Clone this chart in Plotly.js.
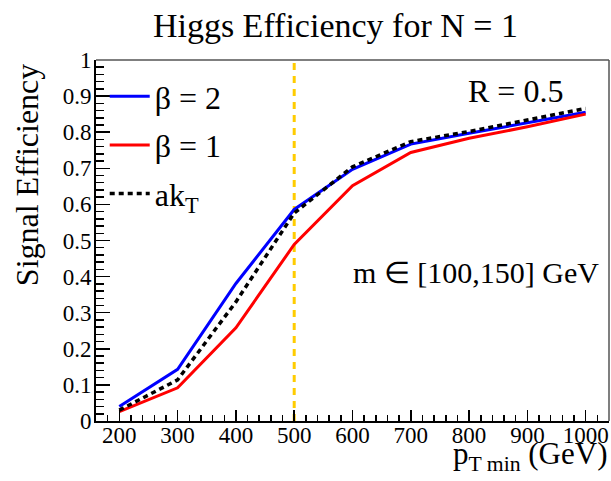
<!DOCTYPE html>
<html>
<head>
<meta charset="utf-8">
<script src="https://cdn.plot.ly/plotly-3.0.1.min.js"></script>
<style>html,body{margin:0;padding:0;background:#fff;}#chart{width:611px;height:481px;}</style>
</head>
<body>
<div id="chart"></div>
<script>
// ---- data ----
const ptMin = [200, 300, 400, 500, 600, 700, 800, 900, 1000];
const effBeta2 = [0.040, 0.143, 0.381, 0.586, 0.697, 0.767, 0.797, 0.826, 0.855];
const effBeta1 = [0.026, 0.092, 0.258, 0.489, 0.652, 0.744, 0.783, 0.815, 0.850];
const effAkT   = [0.030, 0.114, 0.330, 0.576, 0.704, 0.774, 0.802, 0.833, 0.866];
const seriesNames = ['β = 2', 'β = 1', 'ak<sub>T</sub>'];
const cutPt = [500, 500];
const cutEff = [0, 1];
const xTickVals = [200, 300, 400, 500, 600, 700, 800, 900, 1000];
const yTickVals = [0, 0.1, 0.2, 0.3, 0.4, 0.5, 0.6, 0.7, 0.8, 0.9, 1];

const FONT = '"Liberation Serif"';

const traces = [
  {x: ptMin, y: effBeta2, name: seriesNames[0], mode: 'lines', legendgroup: 'a',
   line: {color: '#0000ff', width: 3}},
  {x: ptMin, y: effBeta1, name: seriesNames[1], mode: 'lines', legendgroup: 'b',
   line: {color: '#ff0000', width: 3}},
  {x: ptMin, y: effAkT, name: seriesNames[2], mode: 'lines', legendgroup: 'c',
   line: {color: '#000000', width: 3.5, dash: '5px,4px'}},
  {x: cutPt, y: cutEff, mode: 'lines', showlegend: false, hoverinfo: 'skip',
   line: {color: '#ffcc00', width: 3, dash: '7px,6px'}}
];
const data = [traces[3], traces[0], traces[1], traces[2]];

const axisCommon = {
  showgrid: false, zeroline: false, showline: true, linecolor: '#000', linewidth: 2,
  ticks: 'inside', tickcolor: '#000', tickwidth: 1.5,
  tickfont: {family: FONT, size: 23, color: '#000'}, mirror: false
};

const layout = {
  width: 611, height: 481,
  margin: {l: 96, r: 2, t: 60, b: 60},
  paper_bgcolor: '#fff', plot_bgcolor: '#fff',
  font: {family: FONT, color: '#000'},
  title: {text: 'Higgs Efficiency for N = 1', font: {family: FONT, size: 34, color: '#000'},
          x: 0.549, xanchor: 'center', y: 0.948, yanchor: 'middle'},
  xaxis: Object.assign({}, axisCommon, {
    range: [160, 1040], tickvals: xTickVals, ticklen: 11, ticklabelstandoff: -8,
    minor: {dtick: 20, tick0: 0, ticklen: 6, ticks: 'inside', tickcolor: '#000', tickwidth: 1.5}
  }),
  yaxis: Object.assign({}, axisCommon, {
    range: [0, 1], tickvals: yTickVals, ticklen: 14, ticklabelstandoff: -2,
    minor: {dtick: 0.02, tick0: 0, ticklen: 8, ticks: 'inside', tickcolor: '#000', tickwidth: 1.5}
  }),
  showlegend: true,
  legend: {x: 0.017, y: 0.975, xanchor: 'left', yanchor: 'top', bgcolor: 'rgba(0,0,0,0)',
           font: {family: FONT, size: 32, color: '#000'}, traceorder: 'grouped',
           tracegroupgap: 4, itemwidth: 40},
  shapes: [
    {type: 'line', xref: 'paper', yref: 'paper', x0: 0, x1: 1, y0: 1, y1: 1,
     line: {color: '#555', width: 1.5}},
    {type: 'line', xref: 'paper', yref: 'paper', x0: 1, x1: 1, y0: 0, y1: 1,
     line: {color: '#555', width: 1.5}}
  ],
  annotations: [
    {text: 'R = 0.5', xref: 'paper', yref: 'paper', x: 0.914, y: 0.915,
     xanchor: 'right', yanchor: 'middle', showarrow: false,
     font: {family: FONT, size: 32, color: '#000'}},
    {text: 'm ∈ [100,150] GeV', xref: 'paper', yref: 'paper', x: 0.497, y: 0.41,
     xanchor: 'left', yanchor: 'middle', showarrow: false,
     font: {family: FONT, size: 30, color: '#000'}},
    {text: 'Signal Efficiency', xref: 'paper', yref: 'paper', x: -0.1345, y: 0.681,
     xanchor: 'center', yanchor: 'middle', textangle: -90, showarrow: false,
     font: {family: FONT, size: 32, color: '#000'}},
    {text: 'p<sub>T min</sub> (GeV)', xref: 'paper', yref: 'paper', x: 1.0, y: -0.035,
     xanchor: 'right', yanchor: 'top', showarrow: false,
     font: {family: FONT, size: 31, color: '#000'}}
  ]
};

Plotly.newPlot('chart', data, layout, {displayModeBar: false, staticPlot: true});
</script>
</body>
</html>
